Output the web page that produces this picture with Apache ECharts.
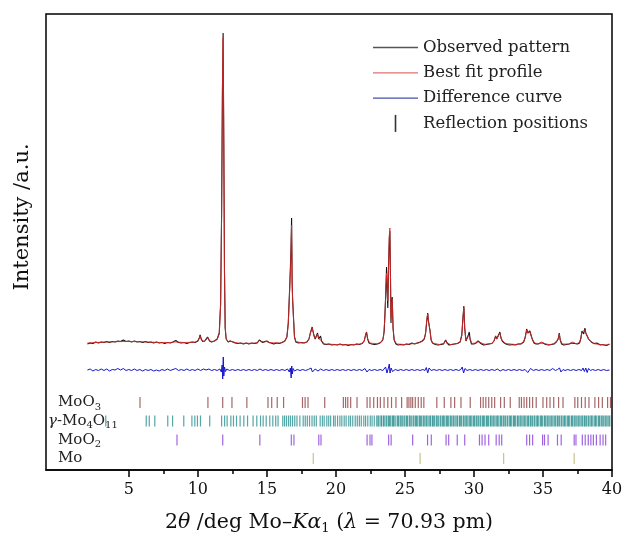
<!DOCTYPE html>
<html><head><meta charset="utf-8">
<script src="https://cdn.jsdelivr.net/npm/echarts@6/dist/echarts.min.js"></script>
<style>html,body{margin:0;padding:0;background:#fff}#c{width:624px;height:536px}</style>
</head><body><div id="c"></div>
<script>
// ---- data (2θ in degrees, intensity in arbitrary units) ----
const observed = [[2.0,-1],[2.2,0],[2.4,-0.5],[2.6,1],[2.8,0],[3.0,1],[3.2,0.5],[3.4,1.5],[3.6,0.5],[3.8,1.5],[4.0,1],[4.2,2],[4.4,1.5],[4.6,3],[4.8,1.5],[5.0,2],[5.2,1],[5.4,2],[5.6,1],[5.8,1.5],[6.0,0.5],[6.2,1.5],[6.4,0.5],[6.6,1],[6.8,0],[7.0,1],[7.2,0],[7.4,0.5],[7.6,-0.5],[7.8,0.5],[8.0,0],[8.2,1],[8.4,2.5],[8.5,1],[8.6,0.5],[8.8,0],[9.0,0.5],[9.2,-0.5],[9.4,0.5],[9.6,1],[9.8,0.5],[10.0,2],[10.1,5],[10.16,8],[10.25,4],[10.35,1.5],[10.5,2],[10.6,3],[10.7,6],[10.78,5],[10.85,2],[11.0,1],[11.2,2],[11.4,4],[11.55,10],[11.65,40],[11.72,130],[11.78,250],[11.83,310],[11.88,200],[11.93,70],[11.98,15],[12.05,4],[12.2,1],[12.35,2],[12.44,4],[12.55,1],[12.7,0],[12.9,-0.5],[13.1,0],[13.3,-1],[13.5,0],[13.7,-1],[13.9,0],[14.1,-0.5],[14.3,0],[14.45,3],[14.55,2],[14.7,0.5],[14.85,1.5],[15.0,2],[15.15,0.5],[15.3,0],[15.5,-1],[15.7,0],[15.9,-0.5],[16.1,0.5],[16.3,2],[16.45,6],[16.55,20],[16.65,55],[16.70,74],[16.74,90],[16.79,125],[16.83,60],[16.86,45],[16.89,47],[16.93,25],[17.0,6],[17.1,1],[17.3,0],[17.5,0.5],[17.7,0],[17.9,1],[18.05,4],[18.15,10],[18.28,16],[18.4,8],[18.5,4],[18.6,6],[18.67,10],[18.75,4],[18.82,6],[18.89,7],[18.96,2],[19.1,-1],[19.3,-1.5],[19.5,-1],[19.7,-2],[19.9,-1.5],[20.1,-2],[20.3,-1],[20.5,-2],[20.7,-1.5],[20.9,-2.5],[21.1,-1.5],[21.3,-2],[21.5,-1],[21.7,-1.5],[21.9,-0.5],[22.05,2],[22.15,8],[22.22,11],[22.3,4],[22.4,0],[22.6,-1],[22.8,-1.5],[23.0,-1],[23.2,0],[23.4,3],[23.5,12],[23.6,45],[23.67,76],[23.72,50],[23.76,35],[23.82,80],[23.87,105],[23.91,112],[23.95,70],[23.99,20],[24.03,40],[24.08,46],[24.14,15],[24.22,3],[24.35,-1],[24.5,-2],[24.7,-1.5],[24.9,-2],[25.1,-1],[25.3,-1.5],[25.5,0],[25.7,-1],[25.9,0],[26.1,1],[26.25,2],[26.4,4],[26.5,10],[26.58,22],[26.65,30],[26.7,22],[26.76,24],[26.82,12],[26.9,3],[27.0,0],[27.2,-1.5],[27.4,-2],[27.6,-1.5],[27.8,-1],[27.95,3],[28.05,0],[28.2,-2],[28.4,-1.5],[28.6,-1],[28.8,-0.5],[29.0,1],[29.12,8],[29.2,25],[29.27,37],[29.33,15],[29.42,2],[29.52,3],[29.6,8],[29.66,11],[29.72,4],[29.82,-1],[30.0,-1],[30.15,0],[30.3,2],[30.4,1],[30.5,-0.5],[30.7,-2],[30.9,-1.5],[31.1,-1],[31.3,-0.5],[31.45,2],[31.57,7],[31.65,4],[31.75,5],[31.88,11],[31.96,5],[32.05,2],[32.2,0],[32.4,-1.5],[32.6,-2],[32.8,-1.5],[33.0,-2],[33.2,-1],[33.4,-1],[33.6,1],[33.72,6],[33.82,14],[33.9,10],[33.98,8],[34.05,12],[34.13,11],[34.22,4],[34.35,0],[34.5,-1],[34.65,-1],[34.8,0],[34.9,1.5],[35.0,0],[35.2,-1.5],[35.4,-2],[35.6,-1.5],[35.8,-1],[35.99,1.5],[36.1,4],[36.18,10],[36.25,3],[36.35,-1],[36.5,-2],[36.7,-1.5],[36.9,-1],[37.05,0],[37.16,1.5],[37.3,-0.5],[37.5,-1],[37.65,0],[37.75,5],[37.82,12],[37.88,13],[37.95,9],[38.04,15],[38.1,10],[38.21,8],[38.3,4],[38.4,5],[38.5,1],[38.6,-1],[38.7,-0.5],[38.8,-1.5],[38.9,0],[39.0,-1],[39.15,-2],[39.3,-1.5],[39.45,-2],[39.6,-2.5],[39.74,-2],[39.82,-1]];

const calculated = [[2.0,0],[3.0,0.8],[4.0,1.3],[5.0,1.6],[6.0,1.2],[7.0,0.6],[8.0,0.5],[8.3,1],[8.4,2],[8.5,1],[9.0,0.5],[9.8,0.8],[10.05,3],[10.16,7],[10.27,2.5],[10.45,1.5],[10.6,3],[10.72,5.5],[10.85,2],[11.1,1.5],[11.4,3.5],[11.55,9],[11.65,38],[11.72,128],[11.78,255],[11.83,305],[11.88,205],[11.93,72],[11.98,16],[12.05,4],[12.2,1.5],[12.35,2],[12.44,3.5],[12.55,1],[13.0,-0.3],[14.0,-0.3],[14.3,0.5],[14.45,2.5],[14.6,1.5],[14.8,1],[15.0,1.5],[15.2,0.3],[16.0,0],[16.3,2],[16.45,6],[16.55,19],[16.65,52],[16.70,70],[16.74,88],[16.79,118],[16.83,62],[16.86,46],[16.89,45],[16.93,24],[17.0,6],[17.1,1.5],[17.6,0],[17.9,1],[18.05,4],[18.15,10],[18.28,15],[18.4,8],[18.5,4.5],[18.6,6],[18.67,9],[18.75,4.5],[18.82,6],[18.89,6.5],[18.96,2],[19.2,-1],[20.0,-1.5],[21.0,-1.8],[21.8,-1],[22.05,2],[22.15,8],[22.22,10.5],[22.3,4],[22.45,0],[23.0,-0.8],[23.3,1],[23.45,6],[23.55,25],[23.62,55],[23.67,70],[23.72,55],[23.76,42],[23.82,78],[23.87,108],[23.91,115],[23.95,72],[23.99,25],[24.03,38],[24.08,44],[24.14,15],[24.22,3],[24.4,-1],[25.0,-1.5],[25.5,-0.8],[26.0,0],[26.3,2],[26.45,6],[26.52,13],[26.58,23],[26.65,29],[26.7,23],[26.76,23],[26.82,12],[26.9,3],[27.0,0],[27.5,-1.5],[27.85,0],[27.95,2.5],[28.05,0],[28.3,-1.5],[28.8,-0.5],[29.0,1],[29.12,8],[29.2,24],[29.27,35],[29.33,15],[29.42,2.5],[29.52,3],[29.6,8],[29.66,10],[29.72,4],[29.85,-0.5],[30.1,0],[30.3,1.5],[30.45,0.5],[30.8,-1.3],[31.3,-0.3],[31.45,2],[31.57,6.5],[31.65,4],[31.75,5],[31.88,10],[31.96,5],[32.05,2],[32.3,-0.5],[33.0,-1.5],[33.4,-0.8],[33.6,1],[33.72,6],[33.82,13],[33.9,10],[33.98,8],[34.05,11],[34.13,10],[34.22,4],[34.4,0],[34.7,-0.8],[34.9,1],[35.1,-0.5],[35.5,-1.8],[35.9,0],[36.1,4],[36.18,9],[36.25,3],[36.4,-1],[36.9,-1],[37.16,1],[37.4,-0.8],[37.65,0.5],[37.75,5],[37.82,11],[37.88,12.5],[37.95,9],[38.04,13],[38.1,10],[38.21,7.5],[38.3,4],[38.4,4.5],[38.5,1],[38.7,-0.8],[39.0,-1.2],[39.5,-2],[39.82,-1.5]];

const difference = [[2.0,-27],[2.2,-26],[2.4,-28],[2.6,-26.5],[2.8,-27.5],[3.0,-26],[3.2,-27.5],[3.4,-26],[3.6,-28],[3.8,-26.5],[4.0,-27],[4.2,-25.5],[4.4,-27],[4.6,-25.5],[4.8,-27.5],[5.0,-26.5],[5.2,-27.5],[5.4,-26],[5.6,-27.5],[5.8,-26.5],[6.0,-28],[6.2,-26.5],[6.4,-27.5],[6.6,-26.5],[6.8,-28],[7.0,-27],[7.2,-28],[7.4,-26.5],[7.6,-27.5],[7.8,-26],[8.0,-27.5],[8.2,-26.5],[8.4,-25.5],[8.6,-27.5],[8.8,-26.5],[9.0,-27.5],[9.2,-26],[9.4,-27.5],[9.6,-26.5],[9.8,-27.5],[10.0,-26],[10.2,-27.5],[10.4,-26],[10.6,-27],[10.8,-26],[11.0,-27.5],[11.2,-26.5],[11.4,-27.5],[11.6,-26],[11.7,-29],[11.76,-22],[11.8,-36],[11.84,-14],[11.88,-33],[11.93,-24],[12.0,-28.5],[12.1,-26],[12.3,-27.5],[12.5,-26.5],[12.7,-27.5],[12.9,-26.5],[13.1,-27.5],[13.3,-26.5],[13.5,-27.5],[13.7,-26.5],[13.9,-27.5],[14.1,-26.5],[14.3,-27.5],[14.5,-26],[14.7,-27.5],[14.9,-26.5],[15.1,-27.5],[15.3,-26.5],[15.5,-27.5],[15.7,-26.5],[15.9,-27.5],[16.1,-26.5],[16.3,-27.5],[16.5,-26],[16.62,-29],[16.7,-25],[16.76,-35],[16.8,-23],[16.85,-31],[16.9,-25.5],[17.0,-28],[17.2,-26.5],[17.4,-27.5],[17.6,-26.5],[17.8,-27.5],[18.0,-26.5],[18.2,-25],[18.3,-29],[18.5,-26],[18.7,-28],[18.9,-26],[19.1,-27.5],[19.3,-26.5],[19.5,-27.5],[19.7,-26.5],[19.9,-27.5],[20.1,-26.5],[20.3,-27.5],[20.5,-26.5],[20.7,-27.5],[20.9,-26.5],[21.1,-27.5],[21.3,-26.5],[21.5,-27.5],[21.7,-26.5],[21.9,-27.5],[22.1,-25.5],[22.25,-29],[22.4,-26.5],[22.6,-27.5],[22.8,-26.5],[23.0,-27.5],[23.2,-26.5],[23.4,-27.5],[23.6,-24],[23.7,-30],[23.8,-25],[23.87,-21],[23.92,-30],[24.0,-25],[24.1,-28.5],[24.3,-26.5],[24.5,-27.5],[24.7,-26.5],[24.9,-27.5],[25.1,-26.5],[25.3,-27.5],[25.5,-26.5],[25.7,-27.5],[25.9,-26.5],[26.1,-27.5],[26.3,-26.5],[26.45,-27.5],[26.55,-24.5],[26.65,-30],[26.75,-25],[26.9,-27.5],[27.1,-26.5],[27.3,-27.5],[27.5,-26.5],[27.7,-27.5],[27.9,-26.5],[28.1,-27.5],[28.3,-26.5],[28.5,-27.5],[28.7,-26.5],[28.9,-27.5],[29.05,-26.5],[29.15,-24],[29.25,-30],[29.35,-25.5],[29.5,-27.5],[29.7,-26.5],[29.9,-27.5],[30.1,-26.5],[30.3,-27.5],[30.5,-26.5],[30.7,-27.5],[30.9,-26.5],[31.1,-27.5],[31.3,-26.5],[31.5,-27.5],[31.7,-26],[31.9,-28],[32.1,-26.5],[32.3,-27.5],[32.5,-26.5],[32.7,-27.5],[32.9,-26.5],[33.1,-27.5],[33.3,-26.5],[33.5,-27.5],[33.7,-26.5],[33.8,-25],[33.9,-29.5],[34.1,-25.5],[34.3,-27.5],[34.5,-26.5],[34.7,-27.5],[34.9,-26.5],[35.1,-27.5],[35.3,-26.5],[35.5,-27.5],[35.7,-25.5],[35.9,-27.5],[36.05,-26.5],[36.2,-25],[36.3,-29],[36.45,-26.5],[36.6,-27.5],[36.8,-26.5],[37.0,-27.5],[37.2,-26.5],[37.4,-27.5],[37.6,-26.5],[37.8,-27.5],[37.9,-25],[38.0,-28.5],[38.1,-25],[38.2,-29.5],[38.3,-25.5],[38.45,-27.5],[38.6,-26.5],[38.8,-27.5],[39.0,-26.5],[39.2,-27.5],[39.4,-26.5],[39.6,-27.5],[39.82,-27]];

const moo3Positions = [5.81,10.73,11.80,12.47,13.55,15.08,15.35,15.75,16.21,17.58,17.77,17.98,19.19,20.54,20.70,20.86,21.07,21.53,22.26,22.47,22.74,23.01,23.22,23.49,23.76,24.03,24.35,24.76,25.16,25.29,25.43,25.56,25.75,25.97,26.18,26.37,27.31,27.85,28.33,28.60,29.06,29.73,30.48,30.67,30.86,31.07,31.29,31.50,31.93,32.20,32.63,33.28,33.44,33.63,33.82,34.03,34.25,34.51,35.00,35.27,35.51,35.78,36.13,36.45,37.31,37.52,37.79,38.06,38.33,38.76,39.03,39.30,39.68,39.89];

const mo4o11Positions = [3.33,6.26,6.48,6.88,7.82,8.17,8.98,9.57,9.78,9.97,10.19,10.86,11.72,11.94,12.12,12.39,12.58,12.80,13.06,13.33,13.60,14.00,14.27,14.54,14.73,14.95,15.21,15.43,15.64,15.81,16.15,16.28,16.42,16.57,16.71,16.86,17.02,17.18,17.39,17.63,17.78,17.93,18.09,18.27,18.43,18.58,18.86,19.02,19.15,19.34,19.48,19.62,19.83,19.95,20.12,20.29,20.43,20.60,20.74,20.93,21.06,21.22,21.40,21.55,21.70,21.84,22.02,22.15,22.31,22.49,22.62,22.78,22.96,23.05,23.12,23.26,23.31,23.44,23.50,23.63,23.69,23.81,23.88,23.97,24.09,24.16,24.22,24.34,24.47,24.53,24.65,24.72,24.81,24.93,25.00,25.12,25.18,25.31,25.37,25.46,25.59,25.65,25.77,25.84,25.93,26.05,26.12,26.21,26.33,26.40,26.52,26.58,26.68,26.80,26.86,26.99,27.05,27.14,27.27,27.33,27.42,27.55,27.61,27.73,27.80,27.89,28.01,28.08,28.17,28.29,28.36,28.48,28.54,28.64,28.76,28.82,28.95,29.01,29.10,29.23,29.29,29.41,29.48,29.57,29.69,29.76,29.85,29.97,30.04,30.16,30.22,30.32,30.44,30.50,30.63,30.69,30.78,30.91,30.97,31.06,31.19,31.25,31.37,31.44,31.53,31.65,31.72,31.81,31.93,32.00,32.12,32.18,32.28,32.40,32.46,32.59,32.65,32.74,32.87,32.93,33.02,33.15,33.21,33.33,33.40,33.49,33.61,33.68,33.77,33.89,33.96,34.08,34.14,34.24,34.36,34.42,34.55,34.61,34.70,34.83,34.89,34.98,35.11,35.17,35.29,35.36,35.45,35.57,35.64,35.73,35.85,35.92,36.04,36.10,36.20,36.32,36.38,36.51,36.57,36.66,36.79,36.85,36.94,37.07,37.13,37.25,37.32,37.41,37.53,37.60,37.69,37.81,37.88,38.00,38.06,38.16,38.28,38.34,38.47,38.53,38.62,38.75,38.81,38.90,39.03,39.09,39.21,39.28,39.37,39.49,39.56,39.65,39.77,39.84];

const moo2Positions = [8.49,11.80,14.49,16.77,16.96,18.76,18.92,22.26,22.47,22.61,23.82,24.00,25.56,26.64,26.91,27.98,28.17,28.79,29.33,30.40,30.59,30.80,31.07,31.61,31.83,32.01,33.82,34.03,34.25,34.97,35.11,35.37,36.05,36.32,37.26,37.39,37.85,38.06,38.28,38.47,38.65,38.87,39.14,39.35,39.54];

const moPositions = [18.36,26.10,32.15,37.26];

const xTickLabels = [5,10,15,20,25,30,35,40];
const xMinorTicks = [7.5,12.5,17.5,22.5,27.5,32.5,37.5];

const seriesNames = ['Observed pattern','Best fit profile','Difference curve','Reflection positions'];
const phaseNames = ['MoO3','γ-Mo4O11','MoO2','Mo'];

// ---- presentation ----
const FONT = 'DejaVu Serif';
const rowLevel = {'MoO3': -59.5, 'γ-Mo4O11': -78, 'MoO2': -97, 'Mo': -115.5};
const phaseColor = {'MoO3': '#8a3434', 'γ-Mo4O11': '#1c8787', 'MoO2': '#8030d8', 'Mo': '#b4b066'};
const phaseLabel = {
  'MoO3': '{t|MoO}{s|3}',
  'γ-Mo4O11': '{i|γ}{t|-Mo}{s|4}{t|O}{s|11}',
  'MoO2': '{t|MoO}{s|2}',
  'Mo': '{t|Mo}'
};
const labelRich = {
  t: {fontFamily: FONT, fontSize: 15, color: '#222'},
  i: {fontFamily: FONT, fontSize: 15, color: '#222', fontStyle: 'italic'},
  s: {fontFamily: FONT, fontSize: 10, color: '#222', padding: [9, 0, 0, 0]}
};
function rowLabel(v) {
  for (const k of phaseNames) if (Math.abs(rowLevel[k] - v) < 0.01) return phaseLabel[k];
  return '';
}

const positions = {'MoO3': moo3Positions, 'γ-Mo4O11': mo4o11Positions, 'MoO2': moo2Positions, 'Mo': moPositions};
const reflectionSeries = phaseNames.map(p => ({
  type: 'scatter', name: p, symbol: 'rect', symbolSize: [1.2, 11],
  xAxisIndex: 0, yAxisIndex: 0, silent: true,
  itemStyle: {color: phaseColor[p], opacity: 0.75},
  data: positions[p].map(x => [x, rowLevel[p]])
}));

const chart = echarts.init(document.getElementById('c'), null, {renderer: 'canvas'});
chart.setOption({
  animation: false,
  backgroundColor: '#fff',
  grid: {left: 46, right: 12, top: 14, bottom: 66, show: true, borderColor: '#000', borderWidth: 1.5,
    containLabel: false, outerBoundsMode: 'none'},
  legend: {
    orient: 'vertical', left: 368, top: 34, itemWidth: 45, itemHeight: 17, itemGap: 8.3,
    textStyle: {fontFamily: FONT, fontSize: 16.5, color: '#222'},
    data: [
      {name: seriesNames[0], icon: 'path://M0,0H45V1.3H0Z', itemStyle: {color: '#555'}},
      {name: seriesNames[1], icon: 'path://M0,0H45V1.3H0Z', itemStyle: {color: '#e07070'}},
      {name: seriesNames[2], icon: 'path://M0,0H45V1.3H0Z', itemStyle: {color: '#4050a8'}},
      {name: seriesNames[3], icon: 'path://M0,0H1.6V17H0Z', itemStyle: {color: '#000'}}]
  },
  xAxis: [{
    type: 'value', min: -1, max: 40,
    axisLine: {show: true, onZero: false, lineStyle: {color: '#000', width: 1.5}},
    axisTick: {show: true, customValues: xTickLabels, length: 7, lineStyle: {color: '#000', width: 1.5}},
    axisLabel: {customValues: xTickLabels, margin: 12, fontFamily: FONT, fontSize: 16, color: '#111'},
    splitLine: {show: false},
    name: '{r|2}{i|θ}{r| /deg Mo–}{i|Kα}{s|1}{r| (}{i|λ}{r| = 70.93 pm)}',
    nameLocation: 'middle', nameGap: 41,
    nameTextStyle: {
      fontFamily: FONT, fontSize: 20.5, color: '#111',
      rich: {
        r: {fontFamily: FONT, fontSize: 20.5, color: '#111'},
        i: {fontFamily: FONT, fontSize: 20.5, color: '#111', fontStyle: 'italic'},
        s: {fontFamily: FONT, fontSize: 13, color: '#111', padding: [11, 0, 0, 0]}
      }
    }
  }, {
    type: 'value', min: -1, max: 40, position: 'bottom',
    axisLine: {show: false, onZero: false},
    axisTick: {show: true, customValues: xMinorTicks, length: 4, lineStyle: {color: '#000', width: 1.5}},
    axisLabel: {show: false}, splitLine: {show: false}
  }],
  yAxis: [{
    type: 'value', min: -127, max: 329,
    axisLine: {show: false, onZero: false}, axisTick: {show: false}, splitLine: {show: false},
    axisLabel: {inside: true, margin: 12, customValues: [rowLevel['MoO3'], rowLevel['MoO2'], rowLevel['Mo']],
      formatter: rowLabel, rich: labelRich, fontFamily: FONT},
    name: 'Intensity /a.u.', nameLocation: 'middle', nameGap: 13, nameRotate: 90,
    nameTextStyle: {fontFamily: FONT, fontSize: 21, color: '#111', padding: [0, 0, 0, 50]}
  }, {
    type: 'value', min: -127, max: 329, position: 'left',
    axisLine: {show: false, onZero: false}, axisTick: {show: false}, splitLine: {show: false},
    axisLabel: {inside: true, margin: 2, customValues: [rowLevel['γ-Mo4O11']],
      formatter: rowLabel, rich: labelRich, fontFamily: FONT}
  }],
  series: [
    {type: 'line', name: seriesNames[0], data: observed, symbol: 'none', silent: true,
      lineStyle: {color: '#111', width: 1.1}, itemStyle: {color: '#111'}},
    {type: 'line', name: seriesNames[1], data: calculated, symbol: 'none', silent: true,
      lineStyle: {color: '#e02828', width: 1, opacity: 0.85}, itemStyle: {color: '#e02828'}},
    {type: 'line', name: seriesNames[2], data: difference, symbol: 'none', silent: true,
      lineStyle: {color: '#1414c8', width: 1}, itemStyle: {color: '#1414c8'}},
    {type: 'scatter', name: seriesNames[3], data: [], itemStyle: {color: '#000'}},
    ...reflectionSeries
  ]
});
</script></body></html>
